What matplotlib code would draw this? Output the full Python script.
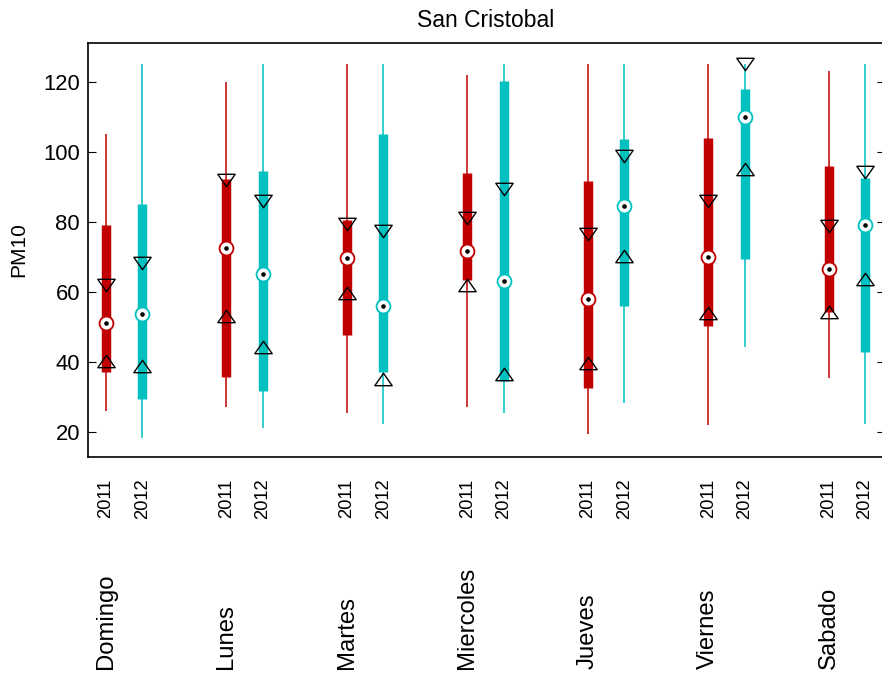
import matplotlib
matplotlib.use("Agg")
import matplotlib.pyplot as plt
from matplotlib.path import Path
import matplotlib.transforms as mtransforms

plt.rcParams['font.family'] = ['Liberation Sans', 'DejaVu Sans']

# ---- data ----
days = ["Domingo", "Lunes", "Martes", "Miercoles", "Jueves", "Viernes", "Sabado"]
years = ["2011", "2012"]

wmin_2011 = [26, 27, 25.3, 27, 19.3, 22, 35.3]
q1_2011 = [37, 35.5, 47.6, 63.3, 32.4, 50.2, 54.2]
med_2011 = [51, 72.5, 69.5, 71.6, 58, 70, 66.5]
q3_2011 = [79, 92.2, 80.5, 94, 91.6, 104, 96]
wmax_2011 = [105, 120, 125, 122, 125, 125, 123]
nlo_2011 = [40.2, 53.2, 59.7, 62, 39.5, 54, 54.2]
nhi_2011 = [62, 91.8, 79.3, 81, 76.5, 86, 78.9]

wmin_2012 = [18.1, 21.1, 22.2, 25.3, 28.1, 44.3, 22.2]
q1_2012 = [29.3, 31.7, 37.1, 34.5, 56, 69.3, 42.9]
med_2012 = [53.5, 65.1, 56, 63.1, 84.6, 110, 79.1]
q3_2012 = [85.1, 94.4, 105, 120.2, 103.5, 117.8, 92.5]
wmax_2012 = [125, 125, 125, 125, 125, 125, 125]
nlo_2012 = [38.9, 44.1, 35, 36.6, 70.3, 95, 63.6]
nhi_2012 = [68.2, 86, 77.3, 89.4, 98.9, 125, 94.3]

yticks = [20, 40, 60, 80, 100, 120]

series = [
    (wmin_2011, q1_2011, med_2011, q3_2011, wmax_2011, nlo_2011, nhi_2011),
    (wmin_2012, q1_2012, med_2012, q3_2012, wmax_2012, nlo_2012, nhi_2012),
]
colors = ["#C00000", "#00C0C0"]
offsets = [0.0, 0.302]

# ---- figure ----
W, H = 882, 675
fig = plt.figure(figsize=(W / 100, H / 100), dpi=100)
left_px, right_px, top_px, bot_px = 87.5, 884, 43, 457
ax = fig.add_axes([left_px / W, (H - bot_px) / H,
                   (right_px - left_px) / W, (bot_px - top_px) / H])

tri_down = Path([(-1.4, 1), (1.4, 1), (0, -1), (-1.4, 1)],
                [Path.MOVETO, Path.LINETO, Path.LINETO, Path.CLOSEPOLY])
tri_up = Path([(-1.4, -1), (1.4, -1), (0, 1), (-1.4, -1)],
              [Path.MOVETO, Path.LINETO, Path.LINETO, Path.CLOSEPOLY])

xt, xl = [], []
for (wmin, q1, med, q3, wmax, nlo, nhi), col, off, yr in zip(series, colors, offsets, years):
    xs = [i + off for i in range(len(days))]
    ax.vlines(xs, wmin, wmax, colors=col, linewidth=1.1, zorder=2)
    ax.vlines(xs, q1, q3, colors=col, linewidth=6.8, zorder=3,
              capstyle='butt')
    ax.plot(xs, med, linestyle='none', marker='o', markersize=10,
            markerfacecolor='white', markeredgecolor=col,
            markeredgewidth=1.3, zorder=4)
    ax.plot(xs, med, linestyle='none', marker='o', markersize=3.3,
            markerfacecolor='black', markeredgecolor='black',
            markeredgewidth=0, zorder=5)
    ax.plot(xs, nhi, linestyle='none', marker=tri_down, markersize=12.5,
            markerfacecolor='none', markeredgecolor='black',
            markeredgewidth=1.0, zorder=6)
    ax.plot(xs, nlo, linestyle='none', marker=tri_up, markersize=12.5,
            markerfacecolor='none', markeredgecolor='black',
            markeredgewidth=1.0, zorder=6)
    xt += xs
    xl += [yr] * len(xs)

px_per_day = 120.45
x0_px = 106
ax.set_xlim((left_px - x0_px) / px_per_day, (right_px - x0_px) / px_per_day)
px_per_unit = 3.5
y120_px = 81.7
ax.set_ylim(120 - (bot_px - y120_px) / px_per_unit,
            120 + (y120_px - top_px) / px_per_unit)

ax.set_xticks(xt)
ax.set_xticklabels(xl, rotation=90, fontsize=13.2)
ax.tick_params(axis='x', length=0, pad=15.6)

ax.set_yticks(yticks)
ax.tick_params(axis='y', direction='in', length=5.4, width=0.8,
               labelsize=15.8, pad=5.4)

for sp in ax.spines.values():
    sp.set_linewidth(1.2)

ax2 = ax.twinx()
ax2.set_ylim(ax.get_ylim())
ax2.set_yticks(yticks)
ax2.tick_params(axis='y', direction='in', length=5.4, width=0.8,
                labelright=False)
for sp in ax2.spines.values():
    sp.set_visible(False)

trans = mtransforms.blended_transform_factory(ax.transData, fig.transFigure)
for i, d in enumerate(days):
    ax.text(i, (H - 669) / H, d, rotation=90, ha='center', va='bottom',
            fontsize=17.2, transform=trans)

ax.set_title("San Cristobal", fontsize=16.5, pad=11.5)
ax.set_ylabel("PM10", fontsize=15)
ax.yaxis.set_label_coords(-0.074, 0.5)

fig.savefig("out.png", dpi=100)
